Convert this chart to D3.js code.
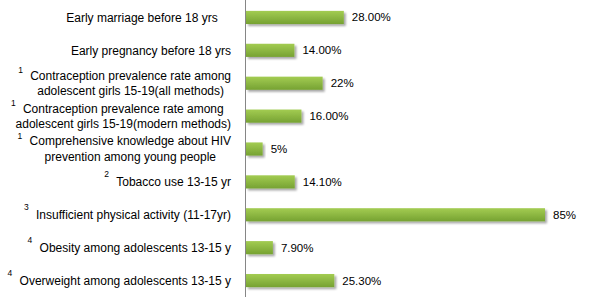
<!DOCTYPE html>
<html><head><meta charset="utf-8">
<script src="https://cdn.jsdelivr.net/npm/d3@7"></script>
<style>body{margin:0;background:#fff;} svg{display:block;}</style>
</head><body>
<svg id="c" width="616" height="304"></svg>
<script>
const categories = [
  "Early marriage before 18 yrs\u00a0\u00a0\u00a0\u00a0",
  "Early pregnancy before 18 yrs",
  "Contraception prevalence rate among|adolescent girls 15-19(all methods)",
  "Contraception prevalence rate among|adolescent girls 15-19(modern methods)",
  "Comprehensive knowledge about HIV|prevention among young people",
  "Tobacco use 13-15 yr",
  "Insufficient physical activity (11-17yr)",
  "Obesity among adolescents 13-15 y",
  "Overweight among adolescents 13-15 y"
];
const superscripts = ["", "", "1", "1", "1", "2", "3", "4", "4"];
const values = [28, 14, 22, 16, 5, 14.1, 85, 7.9, 25.3];
const valueLabels = ["28.00%", "14.00%", "22%", "16.00%", "5%", "14.10%", "85%", "7.90%", "25.30%"];

const svg = d3.select("#c");
const font = "'Liberation Sans', Arial, sans-serif";
const axisX = 245;
const x = d3.scaleLinear().domain([0, 85]).range([axisX, 545]);
const y = d3.scaleBand().domain(d3.range(categories.length)).range([1, 297]).paddingInner(0.6).paddingOuter(0.3);

const defs = svg.append("defs");
const grad = defs.append("linearGradient").attr("id", "g").attr("x1", 0).attr("y1", 0).attr("x2", 0).attr("y2", 1);
grad.append("stop").attr("offset", "0%").attr("stop-color", "#a3cc52");
grad.append("stop").attr("offset", "100%").attr("stop-color", "#76a232");
const flt = defs.append("filter").attr("id", "sh").attr("x", "-10%").attr("y", "-30%").attr("width", "130%").attr("height", "180%");
flt.append("feGaussianBlur").attr("in", "SourceAlpha").attr("stdDeviation", 1.2).attr("result", "b");
flt.append("feOffset").attr("in", "b").attr("dx", 1.5).attr("dy", 1.5).attr("result", "o");
flt.append("feComponentTransfer").attr("in", "o").attr("result", "o2").append("feFuncA").attr("type", "linear").attr("slope", 0.35);
const m = flt.append("feMerge");
m.append("feMergeNode").attr("in", "o2");
m.append("feMergeNode").attr("in", "SourceGraphic");

// bars
svg.append("g").selectAll("rect").data(values).join("rect")
  .attr("x", x(0) + 1)
  .attr("y", (d, i) => y(i))
  .attr("width", d => x(d) - x(0) - 1)
  .attr("height", y.bandwidth())
  .attr("fill", "url(#g)")
  .attr("filter", "url(#sh)");

// axis
const yAxis = d3.axisLeft(y).tickSize(0).tickFormat("");
const ag = svg.append("g").attr("transform", `translate(${axisX},0)`).call(yAxis);
ag.select(".domain").attr("stroke", "#868686").attr("stroke-width", 1).attr("d", `M0.5,0V297`);

// value labels
svg.append("g").selectAll("text").data(valueLabels).join("text")
  .attr("x", (d, i) => x(values[i]) + 8)
  .attr("y", (d, i) => y(i) + y.bandwidth() / 2)
  .attr("dy", "0.35em")
  .attr("font-family", font).attr("font-size", 11.5).attr("fill", "#000")
  .text(d => d);

// category labels
const labelRight = 231;
const lineH = 15.5;
categories.forEach((c, i) => {
  const lines = c.split("|");
  const g = svg.append("g");
  const cy = y(i) + y.bandwidth() / 2;
  const ts = lines.map((ln, k) => g.append("text")
    .attr("x", 0)
    .attr("y", cy + (k - (lines.length - 1) / 2) * lineH)
    .attr("dy", "0.35em")
    .attr("text-anchor", "middle")
    .attr("font-family", font).attr("font-size", 12).attr("fill", "#000")
    .text(ln));
  const widths = ts.map(t => t.node().getComputedTextLength());
  const maxW = d3.max(widths);
  const cx = labelRight - maxW / 2;
  ts.forEach(t => t.attr("x", cx));
  if (superscripts[i]) {
    const start = cx - widths[0] / 2;
    g.append("text")
      .attr("x", start - 12)
      .attr("y", cy - (lines.length - 1) / 2 * lineH - (lines.length > 1 ? 5 : 8))
      .attr("dy", "0.35em")
      .attr("font-family", font).attr("font-size", 8.5).attr("fill", "#000")
      .text(superscripts[i]);
  }
});
</script>
</body></html>
